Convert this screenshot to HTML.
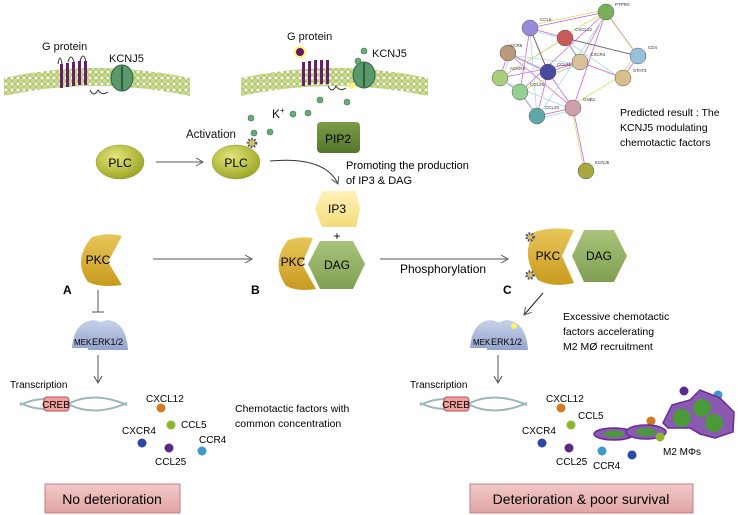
<!DOCTYPE html>
<html><head><meta charset="utf-8"><style>
html,body{margin:0;padding:0;background:#fff}
svg{display:block;font-family:"Liberation Sans",sans-serif}
</style></head><body>
<svg width="738" height="515" viewBox="0 0 738 515" xmlns="http://www.w3.org/2000/svg">
<defs>
<radialGradient id="plc" cx="40%" cy="35%" r="70%"><stop offset="0" stop-color="#e2e67a"/><stop offset="1" stop-color="#9aa322"/></radialGradient>
<linearGradient id="pkc" x1="0" y1="0" x2="0" y2="1"><stop offset="0" stop-color="#e8c65a"/><stop offset="1" stop-color="#c99a1e"/></linearGradient>
<linearGradient id="dag" x1="0" y1="0" x2="0" y2="1"><stop offset="0" stop-color="#a8c47a"/><stop offset="1" stop-color="#7fa052"/></linearGradient>
<linearGradient id="pip" x1="0" y1="0" x2="0" y2="1"><stop offset="0" stop-color="#7c9c4a"/><stop offset="1" stop-color="#55752c"/></linearGradient>
<linearGradient id="ip3" x1="0" y1="0" x2="0" y2="1"><stop offset="0" stop-color="#fff2b8"/><stop offset="1" stop-color="#f3dc7a"/></linearGradient>
<linearGradient id="erk" x1="0" y1="0" x2="0" y2="1"><stop offset="0" stop-color="#c8d2ea"/><stop offset="1" stop-color="#94a4cc"/></linearGradient>
<linearGradient id="box" x1="0" y1="0" x2="0" y2="1"><stop offset="0" stop-color="#f1c9c9"/><stop offset="1" stop-color="#e0a4a4"/></linearGradient>
<marker id="ar" markerWidth="10" markerHeight="10" refX="8" refY="5" orient="auto" markerUnits="userSpaceOnUse"><path d="M1,1 L8,5 L1,9" fill="none" stroke="#555" stroke-width="1"/></marker>
<pattern id="lip" width="6" height="6" patternUnits="userSpaceOnUse"><circle cx="3" cy="3" r="2.7" fill="#c8dc8a" stroke="#98b050" stroke-width="0.6"/></pattern>
</defs>

<!-- membranes -->
<g>
<path d="M4,78 Q95,58 190,78 L190,96 Q95,76 4,96 Z" fill="url(#lip)"/>
<path d="M241,78 Q334,58 428,78 L428,96 Q334,76 241,96 Z" fill="url(#lip)"/>
<g fill="#6a1f6a"><rect x="60" y="64" width="3" height="24"/><rect x="66" y="63" width="3" height="24"/><rect x="72" y="62" width="3" height="24"/><rect x="78" y="61" width="3" height="24"/><rect x="84" y="61" width="3" height="24"/></g>
<path d="M58,64 q2,-12 4,0 M68,62 q3,-10 6,0 M80,61 q3,-10 6,0 M90,90 q4,8 8,0 q4,6 10,2" stroke="#333" fill="none" stroke-width="1"/>
<ellipse cx="122" cy="78" rx="11" ry="13" fill="#5a9a6a" stroke="#2e6040"/>
<path d="M122,66 v24" stroke="#2e6040" stroke-width="2"/>
<g fill="#6a1f6a"><rect x="302" y="62" width="3" height="24"/><rect x="308" y="61" width="3" height="24"/><rect x="314" y="60" width="3" height="24"/><rect x="320" y="60" width="3" height="24"/><rect x="326" y="60" width="3" height="24"/></g>
<path d="M328,86 q4,8 8,0 q4,6 10,2" stroke="#333" fill="none" stroke-width="1"/>
<ellipse cx="364" cy="75" rx="11" ry="13" fill="#5a9a6a" stroke="#2e6040"/>
<path d="M364,63 v24" stroke="#2e6040" stroke-width="2"/>
<circle cx="300" cy="52" r="6" fill="#fff46a"/><circle cx="300" cy="52" r="4" fill="#5a1a6a"/>
<circle cx="352" cy="86" r="3" fill="#fff46a"/>
</g>
<g font-size="11" fill="#111">
<text x="42" y="50">G protein</text><text x="109" y="62">KCNJ5</text>
<text x="287" y="40">G protein</text><text x="372" y="57">KCNJ5</text>
<text x="272" y="118" font-size="12">K<tspan font-size="8" dy="-5">+</tspan></text>
<text x="186" y="138" font-size="11.5">Activation</text>
</g>
<g fill="#6aaa78" stroke="#3a7a4a" stroke-width="0.6">
<circle cx="364" cy="51" r="3"/><circle cx="358" cy="61" r="3"/><circle cx="320" cy="100" r="3"/><circle cx="347" cy="102" r="3"/><circle cx="293" cy="114" r="3"/><circle cx="308" cy="113" r="3"/><circle cx="251" cy="118" r="3"/><circle cx="254" cy="133" r="3"/><circle cx="270" cy="132" r="3"/>
</g>
<circle cx="252" cy="143" r="4" fill="#e0c050" stroke="#3a4a8a" stroke-width="2.5" stroke-dasharray="1.5 1.5"/>

<!-- PLC -->
<ellipse cx="120" cy="162" rx="24" ry="17" fill="url(#plc)" stroke="#8a9a30" stroke-width="0.5"/>
<text x="120" y="167" font-size="12" text-anchor="middle">PLC</text>
<line x1="156" y1="162" x2="203" y2="162" stroke="#555" marker-end="url(#ar)"/>
<ellipse cx="236" cy="162" rx="24" ry="17" fill="url(#plc)" stroke="#8a9a30" stroke-width="0.5"/>
<text x="236" y="167" font-size="12" text-anchor="middle">PLC</text>
<rect x="317" y="122" width="43" height="31" rx="4" fill="url(#pip)"/>
<text x="338" y="143" font-size="12" text-anchor="middle">PIP2</text>
<path d="M270,161 Q325,156 338,184" fill="none" stroke="#333" marker-end="url(#ar)"/>
<text x="346" y="169" font-size="11">Promoting the production</text>
<text x="346" y="184" font-size="11">of IP3 &amp; DAG</text>
<polygon points="322,191 356,191 360,209 356,227 322,227 315,209" fill="url(#ip3)"/>
<text x="337" y="213" font-size="12" text-anchor="middle">IP3</text>
<text x="337" y="240" font-size="12" text-anchor="middle">+</text>

<!-- PKC A -->
<path d="M92,237 Q108,232 122,236 L108,262 L122,285 Q100,288 88,282 Q72,260 92,237 Z" fill="url(#pkc)"/>
<text x="98" y="264" font-size="12" text-anchor="middle">PKC</text>
<line x1="153" y1="259" x2="252" y2="259" stroke="#555" marker-end="url(#ar)"/>
<!-- B -->
<path d="M288,240 Q300,236 313,238 L302,264 L316,289 Q298,292 286,286 Q270,263 288,240 Z" fill="url(#pkc)"/>
<text x="293" y="266" font-size="12" text-anchor="middle">PKC</text>
<polygon points="320,241 353,241 365,264 353,289 320,289 308,264" fill="url(#dag)"/>
<text x="337" y="269" font-size="12" text-anchor="middle">DAG</text>
<line x1="380" y1="259" x2="508" y2="259" stroke="#555" marker-end="url(#ar)"/>
<text x="400" y="273" font-size="12">Phosphorylation</text>
<!-- C -->
<path d="M534,232 Q554,226 574,230 L562,256 L574,283 Q552,288 538,280 Q520,256 534,232 Z" fill="url(#pkc)"/>
<text x="548" y="260" font-size="12" text-anchor="middle">PKC</text>
<polygon points="584,230 614,230 627,256 614,282 584,282 572,256" fill="url(#dag)"/>
<text x="599" y="260" font-size="12" text-anchor="middle">DAG</text>
<circle cx="530" cy="237" r="3.5" fill="#e0c050" stroke="#3a4a8a" stroke-width="2.5" stroke-dasharray="1.5 1.5"/>
<circle cx="530" cy="275" r="3.5" fill="#e0c050" stroke="#3a4a8a" stroke-width="2.5" stroke-dasharray="1.5 1.5"/>
<g font-size="12" font-weight="bold"><text x="63" y="294">A</text><text x="251" y="294">B</text><text x="503" y="294">C</text></g>

<!-- A chain -->
<line x1="98" y1="290" x2="98" y2="312" stroke="#555"/><line x1="92" y1="312" x2="104" y2="312" stroke="#555"/>
<path d="M72,348 Q74,322 93,320 Q112,322 114,348 Z" fill="url(#erk)"/>
<path d="M88,350 Q90,322 108,320 Q126,322 128,350 Z" fill="url(#erk)"/>
<text x="74" y="345" font-size="8">MEK</text><text x="92" y="345" font-size="9">ERK1/2</text>
<line x1="98" y1="355" x2="98" y2="383" stroke="#555" marker-end="url(#ar)"/>
<text x="10" y="388" font-size="10">Transcription</text>
<path d="M20,405 Q45,393 70,405 Q95,417 127,403 M20,403 Q45,415 70,403 Q95,391 127,405" stroke="#9ab8b8" fill="none" stroke-width="2"/>
<rect x="44" y="397" width="25" height="14" rx="3" fill="#f0a0a0" stroke="#c05050"/>
<text x="56" y="408" font-size="10" text-anchor="middle">CREB</text>
<g font-size="10"><text x="146" y="402">CXCL12</text><text x="181" y="428">CCL5</text><text x="122" y="434">CXCR4</text><text x="199" y="443">CCR4</text><text x="155" y="465">CCL25</text></g>
<circle cx="161" cy="408" r="4.5" fill="#d07a20"/><circle cx="171" cy="425" r="4.5" fill="#8ab82a"/><circle cx="142" cy="443" r="4.5" fill="#2a4aa8"/><circle cx="169" cy="448" r="4.5" fill="#5a2a8a"/><circle cx="202" cy="451" r="4.5" fill="#3a9ad0"/>
<text x="235" y="412" font-size="10.5">Chemotactic factors with</text><text x="235" y="427" font-size="10.5">common concentration</text>
<rect x="45" y="484" width="135" height="29" fill="url(#box)" stroke="#c08080"/>
<text x="112" y="504" font-size="14" text-anchor="middle">No deterioration</text>

<!-- C chain -->
<line x1="543" y1="293" x2="524" y2="315" stroke="#222" marker-end="url(#ar)"/>
<path d="M470,348 Q472,322 490,320 Q510,322 512,348 Z" fill="url(#erk)"/>
<path d="M487,350 Q489,322 507,320 Q526,322 528,350 Z" fill="url(#erk)"/>
<text x="473" y="345" font-size="8">MEK</text><text x="491" y="345" font-size="9">ERK1/2</text>
<circle cx="514" cy="326" r="3" fill="#fff46a"/>
<text x="563" y="320" font-size="10.5">Excessive chemotactic</text><text x="563" y="335" font-size="10.5">factors accelerating</text><text x="563" y="350" font-size="10.5">M2 MØ recruitment</text>
<line x1="498" y1="355" x2="498" y2="383" stroke="#555" marker-end="url(#ar)"/>
<text x="410" y="388" font-size="10">Transcription</text>
<path d="M420,405 Q445,393 470,405 Q495,417 527,403 M420,403 Q445,415 470,403 Q495,391 527,405" stroke="#9ab8b8" fill="none" stroke-width="2"/>
<rect x="444" y="397" width="25" height="14" rx="3" fill="#f0a0a0" stroke="#c05050"/>
<text x="456" y="408" font-size="10" text-anchor="middle">CREB</text>
<g font-size="10"><text x="546" y="402">CXCL12</text><text x="578" y="419">CCL5</text><text x="522" y="434">CXCR4</text><text x="556" y="465">CCL25</text><text x="593" y="469">CCR4</text><text x="663" y="455">M2 MΦs</text></g>
<circle cx="561" cy="408" r="4.5" fill="#d07a20"/><circle cx="571" cy="425" r="4.5" fill="#8ab82a"/><circle cx="542" cy="443" r="4.5" fill="#2a4aa8"/><circle cx="569" cy="448" r="4.5" fill="#5a2a8a"/><circle cx="602" cy="451" r="4.5" fill="#3a9ad0"/><circle cx="632" cy="455" r="4.5" fill="#2a4aa8"/><circle cx="651" cy="421" r="4.5" fill="#d07a20"/><circle cx="684" cy="391" r="4.5" fill="#5a2a8a"/><circle cx="718" cy="395" r="4.5" fill="#3a9ad0"/>
<g fill="#8a5ab0" stroke="#6a2a9a" stroke-width="1.5">
<ellipse cx="614" cy="434" rx="20" ry="6"/><ellipse cx="646" cy="432" rx="20" ry="7"/>
<path d="M663,423 L672,405 L690,400 L700,390 L720,398 L734,412 L733,432 L715,438 L700,434 L690,428 L668,428 Z"/>
</g>
<g fill="#4a9a3a"><ellipse cx="614" cy="434" rx="10" ry="3.5"/><ellipse cx="646" cy="432" rx="10" ry="4"/><circle cx="682" cy="418" r="9"/><circle cx="702" cy="408" r="9"/><circle cx="714" cy="423" r="9"/></g>
<circle cx="660" cy="437" r="4.5" fill="#8ab82a"/>
<rect x="470" y="484" width="223" height="29" fill="url(#box)" stroke="#c08080"/>
<text x="581" y="504" font-size="14" text-anchor="middle">Deterioration &amp; poor survival</text>

<!-- network -->
<g stroke-width="0.8" opacity="0.8" fill="none">
<g stroke="#c040c0"><path d="M530,28L565,38L580,62L548,72L508,53L500,78L520,92L537,116L573,108L548,72L530,28L606,12L638,56L623,78L580,62L606,12L573,108L586,171M565,38L638,56M508,53L573,108M500,78L580,62M520,92L606,12M530,28L520,92M508,53L548,72L537,116M565,38L500,78"/></g>
<g stroke="#90d0e0"><path d="M531,30L567,40L582,64L550,74L510,55L502,80L522,94L539,118L575,110M565,40L623,80M537,118L606,14M500,80L573,110M508,55L580,64M530,30L537,116"/></g>
<g stroke="#c8d84a"><path d="M528,26L604,10L636,54L621,76L571,106L584,169M563,36L606,12M500,78L565,38M520,92L580,62"/></g>
<g stroke="#333"><path d="M565,38L638,56M530,28L548,72"/></g>
</g>
<g stroke="#555" stroke-width="0.5">
<circle cx="606" cy="12" r="8" fill="#7ab05a"/><circle cx="530" cy="28" r="8" fill="#9a8ad8"/><circle cx="565" cy="38" r="8" fill="#c85a5a"/><circle cx="508" cy="53" r="8" fill="#b89a7a"/><circle cx="580" cy="62" r="8" fill="#d8c09a"/><circle cx="638" cy="56" r="8" fill="#9ac0e0"/><circle cx="548" cy="72" r="8" fill="#4a4aa0"/><circle cx="500" cy="78" r="8" fill="#a8d07a"/><circle cx="623" cy="78" r="8" fill="#d8c08a"/><circle cx="520" cy="92" r="8" fill="#90d090"/><circle cx="573" cy="108" r="8" fill="#d0a0a8"/><circle cx="537" cy="116" r="8" fill="#60a8a8"/><circle cx="586" cy="171" r="8" fill="#a8a840"/>
</g>
<g font-size="4.5" fill="#333"><text x="615" y="6">PTPRC</text><text x="540" y="21">CCL5</text><text x="575" y="31">CXCL12</text><text x="510" y="47">CCR6</text><text x="590" y="56">CXCR4</text><text x="648" y="49">CD4</text><text x="557" y="66">CCL21</text><text x="510" y="70">ACKR3</text><text x="633" y="72">STAT3</text><text x="530" y="86">CCL25</text><text x="583" y="101">GNB1</text><text x="545" y="109">CCL20</text><text x="595" y="164">KCNJ5</text></g>
<text x="620" y="116" font-size="10.5">Predicted result : The</text>
<text x="620" y="131" font-size="10.5">KCNJ5 modulating</text>
<text x="620" y="146" font-size="10.5">chemotactic factors</text>
</svg>
</body></html>
